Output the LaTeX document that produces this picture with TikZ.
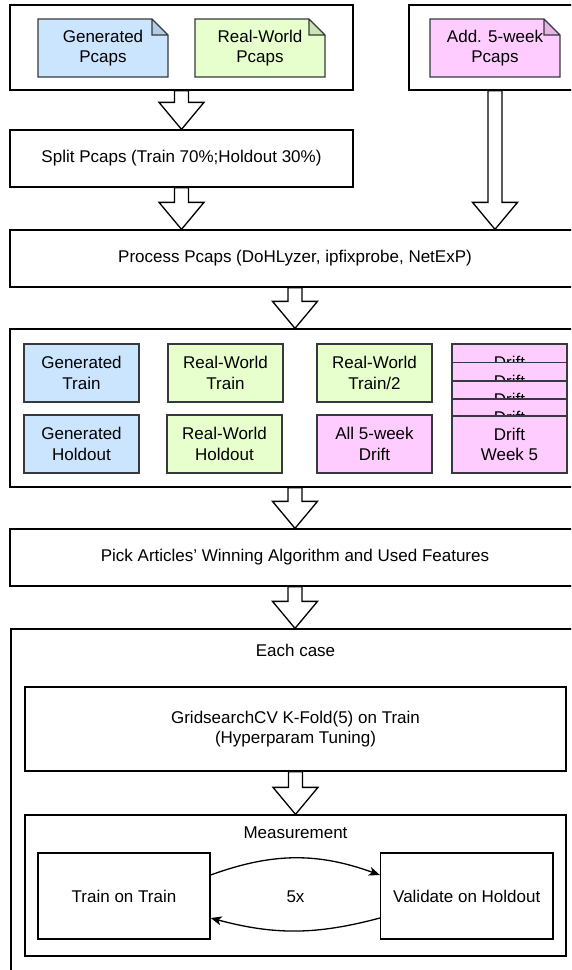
\documentclass[tikz,border=0pt]{standalone}
\usepackage{fontspec}
\setmainfont{Liberation Sans}
\usetikzlibrary{calc,arrows.meta}

\definecolor{edge}{HTML}{36393D}
\definecolor{genfill}{HTML}{CCE5FF}
\definecolor{genfold}{HTML}{B3CCE6}
\definecolor{realfill}{HTML}{E6FFCC}
\definecolor{realfold}{HTML}{CCE6B3}
\definecolor{driftfill}{HTML}{FFCCFF}
\definecolor{driftfold}{HTML}{E6B3E6}

\newcommand\lbl{\fontsize{17}{20.5}\selectfont}

% rectangle node given by its corners: [style]{name}{left}{top}{right}{bottom}{text}
\newcommand\boxat[7][]{%
  \pgfmathsetmacro\boxw{#5-#3}\pgfmathsetmacro\boxh{#6-#4}%
  \pgfmathsetmacro\boxcx{(#3+#5)/2}\pgfmathsetmacro\boxcy{(#4+#6)/2}%
  \node[#1, minimum width=\boxw pt, minimum height=\boxh pt] (#2) at (\boxcx,\boxcy) {#7};}

% folded-corner note: name, left, top, right, bottom, fill, fold colour, text
\newcommand\pcapnote[8]{%
  \fill[#6] (#2,#3) -- (#4-16,#3) -- (#4,#3+16) -- (#4,#5) -- (#2,#5) -- cycle;
  \fill[#7] (#4-16,#3) -- (#4-16,#3+16) -- (#4,#3+16) -- cycle;
  \draw[draw=edge, line width=1.3pt, line join=miter]
    (#2,#3) -- (#4-16,#3) -- (#4,#3+16) -- (#4,#5) -- (#2,#5) -- cycle
    (#4-16,#3) -- (#4-16,#3+16) -- (#4,#3+16);
  \boxat{#1}{#2}{#3}{#4}{#5}{#8}}

\tikzset{
  every node/.style={font=\lbl, align=center, inner sep=0pt, text=black},
  frame/.style={draw=black, line width=1.3pt},
  cell/.style={draw=edge, line width=1.3pt, fill=#1},
  fatarrow/.style={draw=black, fill=white, line width=1.3pt, line join=miter,
    to path={let \p1=(\tikztostart), \p2=(\tikztotarget) in
      (\x1-7pt,\y1) -- (\x1-7pt,\y2+27pt) -- (\x1-22.5pt,\y2+27pt) -- (\x1,\y2)
      -- (\x1+22.5pt,\y2+27pt) -- (\x1+7pt,\y2+27pt) -- (\x1+7pt,\y1) -- cycle}},
  loopedge/.style={line width=1.3pt, -{Stealth[length=11pt,width=9pt,inset=3pt]}},
}

\begin{document}
\begin{tikzpicture}[x=1pt,y=-1pt]
\useasboundingbox (0,0) rectangle (571,970);
\clip (0,0) rectangle (571,970);
\fill[white] (0,0) rectangle (571,970);

% source captures
\boxat[frame]{srcA}{10}{5}{353}{90}{}
\boxat[frame]{srcB}{409}{5}{581}{90}{}
\pcapnote{genpcap}{38}{19}{168}{77}{genfill}{genfold}{Generated\\Pcaps}
\pcapnote{realpcap}{195}{19}{325}{77}{realfill}{realfold}{Real-World\\Pcaps}
\pcapnote{weekpcap}{430}{19}{560}{77}{driftfill}{driftfold}{Add. 5-week\\Pcaps}

% processing steps
\boxat[frame]{split}{10}{130}{353}{187}{Split Pcaps (Train 70\%;Holdout 30\%)}
\boxat[frame]{proc}{10}{230}{580}{287}{Process Pcaps (DoHLyzer, ipfixprobe, NetExP)}

% datasets
\boxat[frame]{data}{10}{329}{580}{487}{}
\boxat[cell=genfill]{gtrain}{24}{344}{139}{402}{Generated\\Train}
\boxat[cell=realfill]{rtrain}{168}{344}{283}{402}{Real-World\\Train}
\boxat[cell=realfill]{rhalf}{317}{344}{432}{402}{Real-World\\Train/2}
\boxat[cell=genfill]{ghold}{24}{415}{139}{473}{Generated\\Holdout}
\boxat[cell=realfill]{rhold}{167}{415}{282}{473}{Real-World\\Holdout}
\boxat[cell=driftfill]{alldrift}{317}{415}{432}{473}{All 5-week\\Drift}
\boxat[cell=driftfill]{drift1}{452}{344}{567}{402}{Drift\\\phantom{Week 1}}
\boxat[cell=driftfill]{drift2}{452}{362.5}{567}{420.5}{Drift\\\phantom{Week 2}}
\boxat[cell=driftfill]{drift3}{452}{381}{567}{439}{Drift\\\phantom{Week 3}}
\boxat[cell=driftfill]{drift4}{452}{399}{567}{457}{Drift\\\phantom{Week 4}}
\boxat[cell=driftfill]{drift5}{452}{416}{567}{473}{Drift\\Week 5}

\boxat[frame]{pick}{10}{529}{580}{586}{Pick Articles' Winning Algorithm and Used Features}

% per-case evaluation
\boxat[frame]{each}{11}{629}{580}{1000}{}
\node (eachlbl) at (295.5,650) {Each case};
\boxat[frame]{grid}{25}{687}{566}{771}{GridsearchCV K-Fold(5) on Train\\(Hyperparam Tuning)}
\boxat[frame]{meas}{25}{815}{566}{956}{}
\node (measlbl) at (295.5,833) {Measurement};
\boxat[frame]{trn}{38}{853}{210}{939}{Train on Train}
\boxat[frame]{val}{380.5}{853}{553}{939}{Validate on Holdout}
\node (times) at (295.5,897) {5x};

% flow arrows
\draw[fatarrow] (srcA.south) to (split.north);
\draw[fatarrow] (split.south) to (proc.north);
\draw[fatarrow] (srcB.south) to (proc.north);
\draw[fatarrow] (proc.south) to (data.north);
\draw[fatarrow] (data.south) to (pick.north);
\draw[fatarrow] (pick.south) to (each.north);
\draw[fatarrow] (grid.south) to (meas.north);

% repetition loop
\draw[loopedge] ([yshift=21pt]trn.east) to[bend left=20] ([yshift=21pt]val.west);
\draw[loopedge] ([yshift=-22pt]val.west) to[bend left=15] ([yshift=-22pt]trn.east);
\end{tikzpicture}
\end{document}
